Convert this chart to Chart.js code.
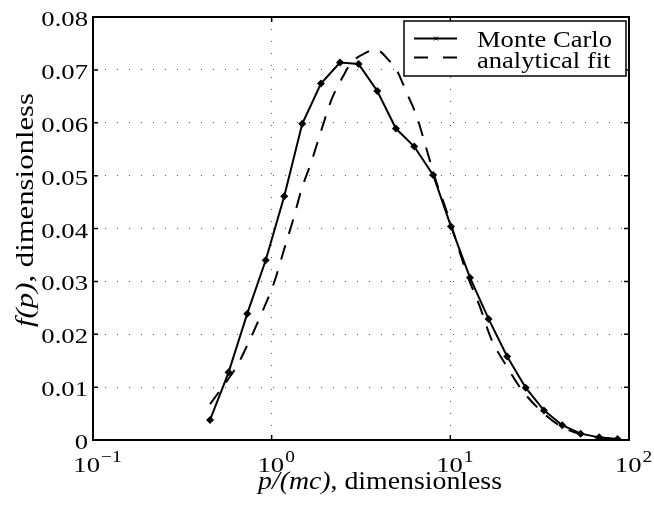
<!DOCTYPE html>
<html><head><meta charset="utf-8">
<script src="https://cdn.jsdelivr.net/npm/chart.js@4/dist/chart.umd.min.js"></script>
<style>html,body{margin:0;padding:0;background:#fff;overflow:hidden;}</style>
</head><body>
<canvas id="c" width="654" height="510" style="display:block;width:654px;height:510px"></canvas>
<script>
// ---- data ----
const mcX = [0.452, 0.574, 0.730, 0.926, 1.176, 1.483, 1.887, 2.412, 3.068, 3.90, 4.96, 6.28, 8.02, 10.08, 12.88, 16.37, 20.8, 26.4, 33.4, 42.3, 53.6, 68.1, 86.3];
const mcY = [0.0038, 0.0128, 0.0239, 0.0340, 0.0461, 0.0598, 0.0674, 0.0714, 0.0711, 0.0660, 0.0589, 0.0555, 0.0501, 0.0404, 0.0307, 0.0229, 0.0158, 0.0099, 0.0056, 0.0028, 0.0012, 0.0005, 0.0002];
const fitX = [0.452, 0.585, 0.637, 0.756, 0.879, 1.03, 1.187, 1.32, 1.47, 1.675, 1.905, 2.17, 2.52, 2.80, 3.40, 3.79, 4.59, 5.0, 5.69, 6.47, 7.36, 8.37, 9.33, 9.95, 12.5, 14.6, 17.0, 20.2, 25.1, 33.1, 42.0, 53.6, 68.0, 86.3];
const fitY = [0.0068, 0.0120, 0.0139, 0.0190, 0.0240, 0.0297, 0.0366, 0.0417, 0.0474, 0.0528, 0.0588, 0.0645, 0.0689, 0.0714, 0.0733, 0.0739, 0.0716, 0.0700, 0.0657, 0.0613, 0.0550, 0.0487, 0.0442, 0.0414, 0.0310, 0.0253, 0.0190, 0.0145, 0.0095, 0.0051, 0.0025, 0.0011, 0.0004, 0.0002];
const xTickExponents = [-1, 0, 1, 2];
const yTickValues = [0, 0.01, 0.02, 0.03, 0.04, 0.05, 0.06, 0.07, 0.08];
const yTickLabels = ['0', '0.01', '0.02', '0.03', '0.04', '0.05', '0.06', '0.07', '0.08'];
const seriesNames = ['Monte Carlo', 'analytical fit'];
const xTitleItalic = 'p/(mc)', xTitleRest = ', dimensionless';
const yTitleItalic = 'f(p)', yTitleRest = ', dimensionless';

const SERIF = "'Liberation Serif', 'Times New Roman', serif";

function stretchedText(ctx, s, x, y, font, sx) {
  ctx.save();
  ctx.font = font;
  ctx.textAlign = 'left';
  ctx.textBaseline = 'alphabetic';
  ctx.translate(x, y);
  ctx.scale(sx, 1);
  ctx.fillText(s, 0, 0);
  ctx.restore();
}
function textW(ctx, s, font) { ctx.save(); ctx.font = font; const w = ctx.measureText(s).width; ctx.restore(); return w; }

const decor = {
  id: 'decor',
  afterDraw(chart) {
    const ctx = chart.ctx, a = chart.chartArea;
    const xs = chart.scales.x, ys = chart.scales.y;
    ctx.save();
    ctx.fillStyle = '#000';
    ctx.strokeStyle = '#000';
    // axes box
    ctx.lineWidth = 2;
    ctx.strokeRect(a.left, a.top, a.right - a.left, a.bottom - a.top);
    // inward tick marks on all sides
    ctx.lineWidth = 1.5;
    const TL = 5;
    ctx.beginPath();
    xTickExponents.forEach(e => {
      const px = xs.getPixelForValue(Math.pow(10, e));
      ctx.moveTo(px, a.bottom); ctx.lineTo(px, a.bottom - TL);
      ctx.moveTo(px, a.top); ctx.lineTo(px, a.top + TL);
    });
    yTickValues.forEach(v => {
      const py = ys.getPixelForValue(v);
      ctx.moveTo(a.left, py); ctx.lineTo(a.left + TL, py);
      ctx.moveTo(a.right, py); ctx.lineTo(a.right - TL, py);
    });
    ctx.stroke();

    // y tick labels
    const tickFont = '22px ' + SERIF;
    const tsx = 46.7 / textW(ctx, '0.08', tickFont);
    yTickValues.forEach((v, i) => {
      const py = ys.getPixelForValue(v);
      const w = textW(ctx, yTickLabels[i], tickFont) * tsx;
      stretchedText(ctx, yTickLabels[i], a.left - 5 - w, py + 9, tickFont, tsx);
    });
    // x tick labels 10^e
    const supFont = '16px ' + SERIF;
    xTickExponents.forEach(e => {
      const px = xs.getPixelForValue(Math.pow(10, e));
      const base = '10', sup = (e < 0 ? '\u2212' : '') + Math.abs(e);
      const wb = textW(ctx, base, tickFont) * tsx;
      const ws = textW(ctx, sup, supFont) * tsx;
      const x0 = px + 4 - (wb + ws) / 2;
      stretchedText(ctx, base, x0, a.bottom + 32, tickFont, tsx);
      stretchedText(ctx, sup, x0 + wb + 1, a.bottom + 22, supFont, tsx);
    });

    // x title
    const tItal = 'italic 25px ' + SERIF, tReg = '25px ' + SERIF;
    let wi = textW(ctx, xTitleItalic, tItal), wr = textW(ctx, xTitleRest, tReg);
    let sx = 244 / (wi + wr);
    stretchedText(ctx, xTitleItalic, 258, a.bottom + 49, tItal, sx);
    stretchedText(ctx, xTitleRest, 258 + wi * sx, a.bottom + 49, tReg, sx);

    // y title (rotated)
    const yItal = 'italic 26px ' + SERIF, yReg = '26px ' + SERIF;
    wi = textW(ctx, yTitleItalic, yItal); wr = textW(ctx, yTitleRest, yReg);
    sx = 234 / (wi + wr);
    ctx.save();
    ctx.translate(33, 210);
    ctx.rotate(-Math.PI / 2);
    const start = -(wi + wr) * sx / 2;
    stretchedText(ctx, yTitleItalic, start, 0, yItal, sx);
    stretchedText(ctx, yTitleRest, start + wi * sx, 0, yReg, sx);
    ctx.restore();

    // legend
    const L = { x1: 404, y1: 21, x2: 626, y2: 76 };
    ctx.fillStyle = '#fff';
    ctx.fillRect(L.x1, L.y1, L.x2 - L.x1, L.y2 - L.y1);
    ctx.strokeStyle = '#000';
    ctx.lineWidth = 1.5;
    ctx.strokeRect(L.x1, L.y1, L.x2 - L.x1, L.y2 - L.y1);
    ctx.lineWidth = 2;
    ctx.beginPath(); ctx.moveTo(414, 38.5); ctx.lineTo(457, 38.5); ctx.stroke();
    ctx.lineWidth = 1;
    ctx.beginPath();
    ctx.moveTo(434, 36.5); ctx.lineTo(438, 40.5);
    ctx.moveTo(438, 36.5); ctx.lineTo(434, 40.5);
    ctx.stroke();
    ctx.lineWidth = 2;
    ctx.beginPath();
    ctx.moveTo(414, 57.5); ctx.lineTo(428, 57.5);
    ctx.moveTo(443, 57.5); ctx.lineTo(457, 57.5);
    ctx.stroke();
    ctx.fillStyle = '#000';
    const lFont = '24px ' + SERIF;
    const lsx = 135 / textW(ctx, seriesNames[0], lFont);
    stretchedText(ctx, seriesNames[0], 477, 46.5, lFont, lsx);
    stretchedText(ctx, seriesNames[1], 477, 67.5, lFont, lsx);
    ctx.restore();
  }
};

const gridOpts = { color: '#555', lineWidth: 1, drawTicks: false };
new Chart(document.getElementById('c'), {
  type: 'line',
  data: {
    datasets: [
      {
        label: seriesNames[0],
        data: mcX.map((x, i) => ({ x, y: mcY[i] })),
        borderColor: '#000', backgroundColor: '#000',
        borderWidth: 2, pointStyle: 'rectRot', pointRadius: 4,
        pointBorderWidth: 0, tension: 0, fill: false
      },
      {
        label: seriesNames[1],
        data: fitX.map((x, i) => ({ x, y: fitY[i] })),
        borderColor: '#000', borderWidth: 2, borderDash: [15, 12],
        pointRadius: 0, cubicInterpolationMode: 'monotone', fill: false
      }
    ]
  },
  options: {
    responsive: false, animation: false, devicePixelRatio: 1,
    layout: { padding: { left: 93, top: 17, right: 25, bottom: 70 } },
    plugins: { legend: { display: false }, tooltip: { enabled: false } },
    scales: {
      x: {
        type: 'logarithmic', min: 0.1, max: 100,
        afterBuildTicks: s => { s.ticks = xTickExponents.map(e => ({ value: Math.pow(10, e) })); },
        ticks: { display: false },
        grid: gridOpts,
        border: { display: false, dash: [1, 11] }
      },
      y: {
        type: 'linear', min: 0, max: 0.08,
        afterBuildTicks: s => { s.ticks = yTickValues.map(v => ({ value: v })); },
        ticks: { display: false },
        grid: gridOpts,
        border: { display: false, dash: [1, 11] }
      }
    }
  },
  plugins: [decor]
});
</script>
</body></html>
